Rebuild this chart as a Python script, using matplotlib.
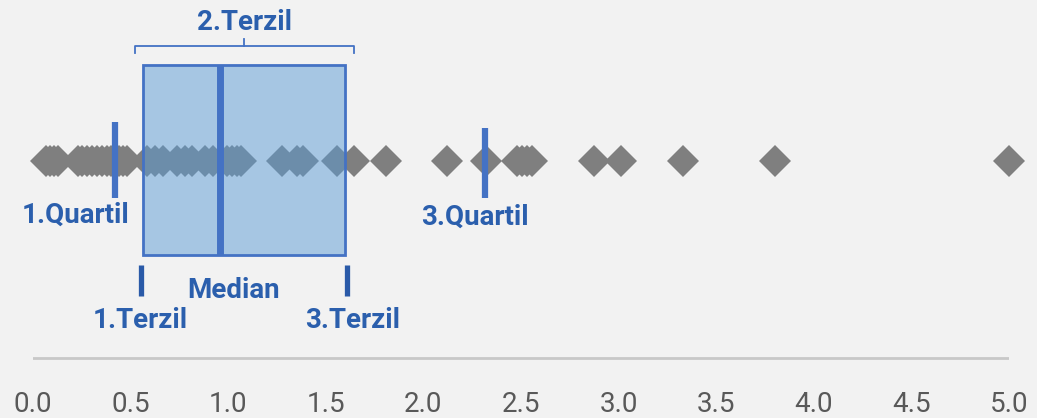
import numpy as np
import matplotlib.pyplot as plt
from matplotlib.patches import Rectangle

# Data values
values = [0.067, 0.087, 0.108, 0.128,
          0.230, 0.251, 0.276, 0.302, 0.328, 0.353, 0.379, 0.399,
          0.440, 0.461, 0.481,
          0.584, 0.625, 0.666, 0.737, 0.778, 0.814, 0.881, 0.922,
          0.993, 1.019, 1.045, 1.065,
          1.275, 1.352, 1.382, 1.557, 1.644, 1.807, 2.12, 2.32,
          2.478, 2.504, 2.53, 2.555, 2.873, 3.011, 3.328, 3.799, 5.0]

# summary positions
quartile1 = 0.42
median = 0.957
quartile3 = 2.315
terzil1 = 0.563
terzil3 = 1.598

ticks = [0.0, 0.5, 1.0, 1.5, 2.0, 2.5, 3.0, 3.5, 4.0, 4.5, 5.0]

blue_line = "#4472c4"
blue_text = "#2b5fad"
bg = "#f2f2f2"

fig = plt.figure(figsize=(10.37, 4.18), dpi=100, facecolor=bg)
ax = fig.add_axes([33 / 1037, 0, 976 / 1037, 1])
ax.set_facecolor(bg)
ax.set_xlim(0, 5)
ax.set_ylim(418, 0)  # y in pixels from top
ax.axis("off")

row_y = 161

# points
ax.plot(values, [row_y] * len(values), linestyle="none", marker="D",
        markersize=16.5, color="#7f7f7f", markeredgewidth=0, zorder=2,
        clip_on=False)

# box between the terziles
ax.add_patch(Rectangle((terzil1, 65), terzil3 - terzil1, 190,
                       facecolor="#5b9bd5", alpha=0.5, edgecolor="none", zorder=3))
ax.add_patch(Rectangle((terzil1, 65), terzil3 - terzil1, 190,
                       facecolor="none", edgecolor=blue_line, linewidth=2, zorder=4))

# median line
ax.plot([median, median], [65, 255], color=blue_line, linewidth=5, zorder=5,
        solid_capstyle="butt")

# quartile lines
ax.plot([quartile1, quartile1], [122, 198], color=blue_line, linewidth=4.5,
        zorder=5, solid_capstyle="butt")
ax.plot([quartile3, quartile3], [128, 198], color=blue_line, linewidth=4.5,
        zorder=5, solid_capstyle="butt")

# terzil ticks below the box
for t in (terzil1 - 0.01, terzil3 + 0.01):
    ax.plot([t, t], [265, 296], color="#2a5aa8", linewidth=3.8,
            solid_capstyle="butt", zorder=5)

# bracket above the box
bl, br = terzil1 - 0.041, terzil3 + 0.045
bc = (bl + br) / 2
ax.plot([bl, bl, br, br], [53, 46, 46, 53], color=blue_line, linewidth=1.3, zorder=5)
ax.plot([bc, bc], [46, 39], color=blue_line, linewidth=1.3, zorder=5)

# labels
lab = dict(color=blue_text, fontsize=20, fontweight="bold", family="Roboto",
           ha="center", va="center")
ax.text(bc, 22, "2.Terzil", **lab)
ax.text(quartile1 - 0.2, 215, "1.Quartil", **lab)
ax.text(quartile3 - 0.05, 217, "3.Quartil", **lab)
ax.text(median + 0.07, 290, "Median", **lab)
ax.text(terzil1 - 0.015, 321, "1.Terzil", **lab)
ax.text(terzil3 + 0.04, 321, "3.Terzil", **lab)

# axis line and tick labels
ax.axhline(358, color="#c8c8c8", linewidth=2, zorder=1)
for t in ticks:
    ax.text(t, 405, f"{t:.1f}", color="#595959", fontsize=20, family="Roboto",
            ha="center", va="center")

fig.savefig("out.png", dpi=100, facecolor=bg)
